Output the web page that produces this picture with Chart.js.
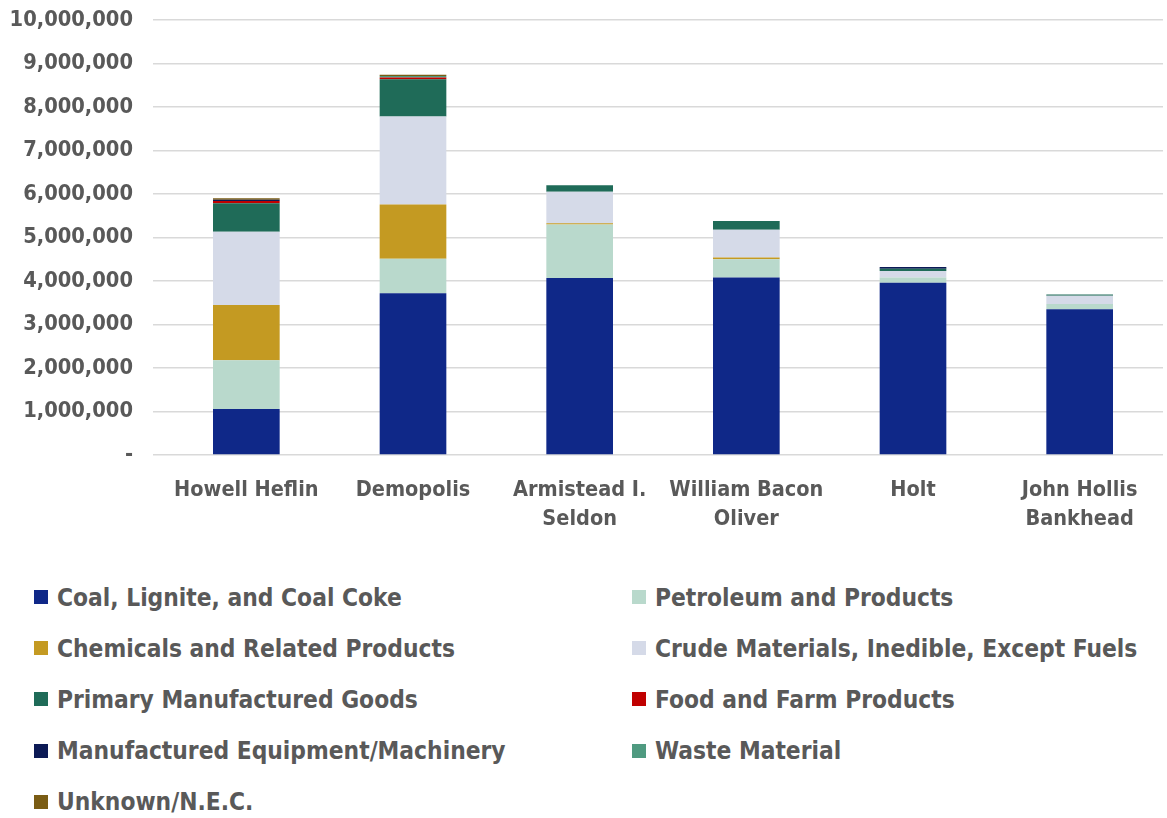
<!DOCTYPE html>
<html>
<head>
<meta charset="utf-8">
<script src="https://cdn.jsdelivr.net/npm/chart.js@4"></script>
<style>
  body { margin: 0; background: #fff; font-family: "DejaVu Sans Condensed", "DejaVu Sans", sans-serif; }
  #wrap { position: relative; width: 1167px; height: 548px; }
  #legend { position: relative; width: 1167px; height: 270px; }
  .item { position: absolute; display: flex; align-items: center; color: #595959; font-size: 24.3px; font-weight: bold; white-space: nowrap; }
  .box { width: 14px; height: 14px; margin-right: 9px; }
</style>
</head>
<body>
<div id="wrap"><canvas id="myChart"></canvas></div>
<div id="legend"></div>
<script>
const labels = [["Howell Heflin"], ["Demopolis"], ["Armistead I.", "Seldon"], ["William Bacon", "Oliver"], ["Holt"], ["John Hollis", "Bankhead"]];

const coal = [1060000, 3720000, 4070000, 4080000, 3960000, 3350000];
const petroleum = [1120000, 790000, 1230000, 420000, 120000, 120000];
const chemicals = [1270000, 1250000, 30000, 40000, 0, 0];
const crude = [1680000, 2020000, 720000, 640000, 150000, 190000];
const primary = [660000, 860000, 150000, 200000, 50000, 30000];
const food = [50000, 40000, 0, 0, 0, 0];
const equipment = [30000, 0, 0, 0, 40000, 0];
const waste = [0, 30000, 0, 0, 0, 0];
const unknown = [30000, 30000, 0, 0, 0, 0];

const seriesNames = [
    "Coal, Lignite, and Coal Coke",
    "Petroleum and Products",
    "Chemicals and Related Products",
    "Crude Materials, Inedible, Except Fuels",
    "Primary Manufactured Goods",
    "Food and Farm Products",
    "Manufactured Equipment/Machinery",
    "Waste Material",
    "Unknown/N.E.C."
];
const seriesValues = [coal, petroleum, chemicals, crude, primary, food, equipment, waste, unknown];
const seriesColors = ["#0F2888", "#B9D9CC", "#C49A22", "#D5DAE8", "#1F6B58", "#C00000", "#0C1A55", "#4F9A80", "#7A5C14"];

const yTicks = [0, 1000000, 2000000, 3000000, 4000000, 5000000, 6000000, 7000000, 8000000, 9000000, 10000000];

let data = { labels: labels, datasets: [] };

seriesNames.forEach((name, i) => {
    data.datasets.push({
        label: name,
        data: seriesValues[i],
        backgroundColor: seriesColors[i],
        borderWidth: 0,
        barPercentage: 0.4,
        categoryPercentage: 1.0
    });
});

const config = {
    type: 'bar',
    data: data,
    options: {
        responsive: true,
        maintainAspectRatio: false,
        animation: false,
        layout: { padding: { top: 20, right: 4, left: 0, bottom: 0 } },
        plugins: { legend: { display: false }, tooltip: { enabled: false } },
        scales: {
            x: {
                stacked: true,
                grid: { display: false },
                border: { display: false },
                afterFit: (axis) => { axis.height = 93; },
                ticks: { color: '#595959', font: { family: "DejaVu Sans Condensed", size: 21.5, weight: 'bold', lineHeight: 1.35 }, padding: 13, maxRotation: 0 }
            },
            y: {
                stacked: true,
                min: 0,
                max: 10000000,
                afterBuildTicks: (axis) => { axis.ticks = yTicks.map(v => ({ value: v })); },
                afterFit: (axis) => { axis.width = 163; axis.paddingTop = 0; axis.paddingBottom = 0; },
                grid: { color: '#D9D9D9', lineWidth: 1.5, tickLength: 10, drawTicks: true },
                border: { display: false },
                ticks: {
                    color: '#595959',
                    font: { family: "DejaVu Sans Condensed", size: 21.7, weight: 'bold' },
                    padding: 20,
                    callback: (v) => v === 0 ? '-' : v.toLocaleString('en-US')
                }
            }
        }
    }
};

let myChart = new Chart(document.getElementById('myChart'), config);

// two-column legend
const elLegend = document.getElementById('legend');
seriesNames.forEach((name, i) => {
    let el = document.createElement('div');
    el.className = 'item';
    el.style.left = (i % 2 === 0 ? 34 : 632) + 'px';
    el.style.top = (34.5 + Math.floor(i / 2) * 51.2) + 'px';
    el.innerHTML = '<span class="box" style="background:' + seriesColors[i] + '"></span>' + name;
    elLegend.appendChild(el);
});
</script>
</body>
</html>
